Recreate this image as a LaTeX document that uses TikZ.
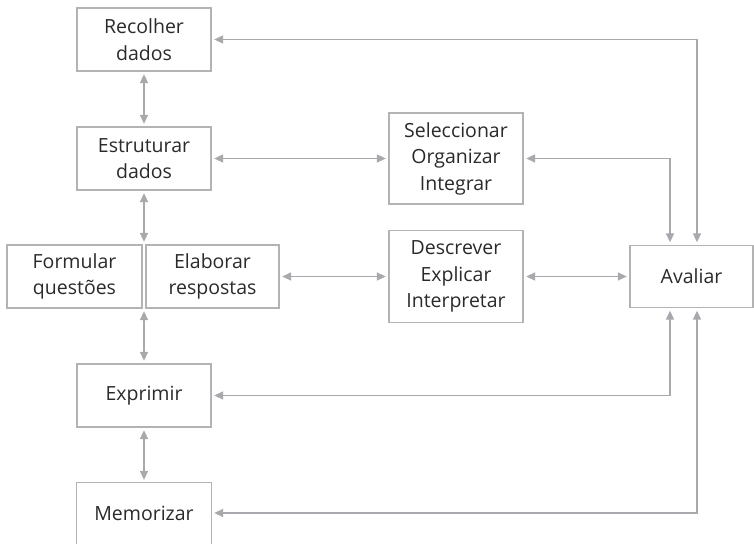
\documentclass[tikz,border=0pt]{standalone}
\usepackage{fontspec}
\setmainfont{Open Sans}
\usetikzlibrary{arrows.meta,calc}
\definecolor{linegray}{HTML}{A7A9AC}
\definecolor{boxgray}{HTML}{B3B3B3}
\definecolor{txtgray}{HTML}{2A2A2A}
\tikzset{
  box/.style={draw=boxgray, line width=1.3pt, rectangle, align=center, inner sep=0pt,
    text=txtgray, font=\fontsize{19.5}{26.5}\selectfont, minimum height=63pt, minimum width=134pt},
  openbox/.style={box, draw=none},
  conn/.style={draw=linegray, line width=1.5pt, {Triangle[length=9pt,width=8pt]}-{Triangle[length=9pt,width=8pt]},
    shorten <=2.5pt, shorten >=2.5pt},
}
\begin{document}
\begin{tikzpicture}[x=1pt,y=-1pt]
\useasboundingbox (0,0) rectangle (754,543);
\node[box] (rec) at (144,39.5) {Recolher\\dados};
\node[box] (est) at (144,158.5) {Estruturar\\dados};
\node[box, minimum width=135pt] (form) at (74.5,276.5) {Formular\\questões};
\node[box, minimum width=133pt] (elab) at (212.5,276.5) {Elaborar\\respostas};
\node[box] (exp) at (144,395.5) {Exprimir};
\node[openbox, minimum height=60pt] (mem) at (144,513) {Memorizar};
\draw[boxgray, line width=1.3pt] ([yshift=-5pt]mem.south west) -- (mem.north west) -- (mem.north east) -- ([yshift=-5pt]mem.south east);
\node[box, minimum height=91pt] (sel) at (456,158.5) {Seleccionar\\Organizar\\Integrar};
\node[box, minimum height=92pt] (desc) at (456,276.5) {Descrever\\Explicar\\Interpretar};
\node[box, minimum width=123pt, minimum height=62pt] (aval) at (691.5,276.5) {Avaliar};

\coordinate (fetop) at ($(form.north east)!0.5!(elab.north west)$);
\coordinate (febot) at ($(form.south east)!0.5!(elab.south west)$);
\coordinate (avA) at ([xshift=-21.5pt]aval.north);
\coordinate (avB) at ([xshift=5.5pt]aval.north);
\coordinate (avC) at ([xshift=-21.5pt]aval.south);
\coordinate (avD) at ([xshift=5.5pt]aval.south);

\draw[conn] (rec.south) -- (est.north);
\draw[conn] (est.south) -- (fetop);
\draw[conn] (febot) -- (exp.north);
\draw[conn] (exp.south) -- (mem.north);
\draw[conn] (est.east) -- (sel.west);
\draw[conn] (elab.east) -- (desc.west);
\draw[conn] (desc.east) -- (aval.west);
\draw[conn] (rec.east) -| (avB);
\draw[conn] (sel.east) -| (avA);
\draw[conn] (exp.east) -| (avC);
\draw[conn] (mem.east) -| (avD);
\end{tikzpicture}
\end{document}
